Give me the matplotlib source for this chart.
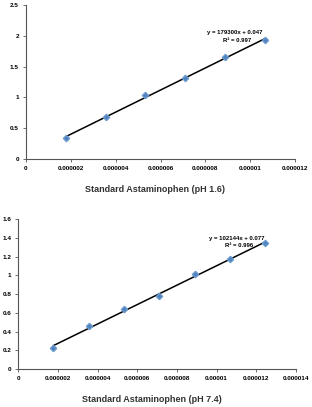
import matplotlib.pyplot as plt
import numpy as np

# data (x in mol/L, y absorbance)
x_ph16 = [1.78e-6, 3.56e-6, 5.33e-6, 7.11e-6, 8.89e-6, 10.67e-6]
y_ph16 = [0.34, 0.68, 1.04, 1.32, 1.65, 1.93]
x_ph74 = [1.78e-6, 3.56e-6, 5.33e-6, 7.11e-6, 8.89e-6, 10.67e-6, 12.44e-6]
y_ph74 = [0.22, 0.46, 0.64, 0.78, 1.01, 1.17, 1.34]

eq_ph16 = ['y = 179300x + 0.047', 'R\u00b2 = 0.997']
eq_ph74 = ['y = 102144x + 0.077', 'R\u00b2 = 0.996']

xt_ph16 = [0, 0.000002, 0.000004, 0.000006, 0.000008, 0.00001, 0.000012]
xl_ph16 = ['0', '0.000002', '0.000004', '0.000006', '0.000008', '0.00001', '0.000012']
yt_ph16 = [0, 0.5, 1, 1.5, 2, 2.5]
yl_ph16 = ['0', '0.5', '1', '1.5', '2', '2.5']
xt_ph74 = [0, 0.000002, 0.000004, 0.000006, 0.000008, 0.00001, 0.000012, 0.000014]
xl_ph74 = ['0', '0.000002', '0.000004', '0.000006', '0.000008', '0.00001', '0.000012', '0.000014']
yt_ph74 = [0, 0.2, 0.4, 0.6, 0.8, 1, 1.2, 1.4, 1.6]
yl_ph74 = ['0', '0.2', '0.4', '0.6', '0.8', '1', '1.2', '1.4', '1.6']

plt.rcParams['font.family'] = ['Liberation Sans', 'DejaVu Sans']

fig = plt.figure(figsize=(3.12, 4.07), dpi=100)
ax1 = fig.add_axes([0.083, 0.609, 0.863, 0.379])
ax2 = fig.add_axes([0.058, 0.093, 0.891, 0.369])


def draw(ax, x, y, xt, xl, yt, yl, eq, label, eqpos):
    x = np.array(x)
    y = np.array(y)
    k, b = np.polyfit(x, y, 1)
    xx = np.array([x.min(), x.max()])
    ax.plot(xx, k * xx + b, color='black', lw=1.1, zorder=2)
    ax.plot(x, y, 'D', color='#4f81bd', ms=3.2, mec='#6a9ad0', zorder=3)
    ax.set_xlim(xt[0], xt[-1])
    ax.set_ylim(yt[0], yt[-1])
    ax.set_xticks(xt)
    ax.set_xticklabels(xl)
    ax.set_yticks(yt)
    ax.set_yticklabels(yl)
    for s in ['top', 'right']:
        ax.spines[s].set_visible(False)
    for s in ['left', 'bottom']:
        ax.spines[s].set_color('#555555')
        ax.spines[s].set_linewidth(0.8)
    ax.tick_params(labelsize=4.6, length=2, width=0.6, color='#555555', pad=3)
    for t in ax.get_xticklabels() + ax.get_yticklabels():
        t.set_fontweight('bold')
    ax.set_xlabel(label, fontsize=6.5, fontweight='bold', color='#333333', labelpad=10)
    ax.xaxis.set_label_coords(0.48, -0.165 if ax is ax1 else -0.17)
    ax.text(eqpos[0], eqpos[1], eq[0], transform=ax.transAxes, fontsize=4.3,
            fontweight='bold', ha='center', va='center')
    ax.text(eqpos[0] + 0.01, eqpos[1] - 0.05, eq[1], transform=ax.transAxes, fontsize=4.3,
            fontweight='bold', ha='center', va='center')


draw(ax1, x_ph16, y_ph16, xt_ph16, xl_ph16, yt_ph16, yl_ph16, eq_ph16,
     'Standard Astaminophen (pH 1.6)', (0.775, 0.82))
draw(ax2, x_ph74, y_ph74, xt_ph74, xl_ph74, yt_ph74, yl_ph74, eq_ph74,
     'Standard Astaminophen (pH 7.4)', (0.785, 0.87))

fig.savefig('out.png', dpi=100)
